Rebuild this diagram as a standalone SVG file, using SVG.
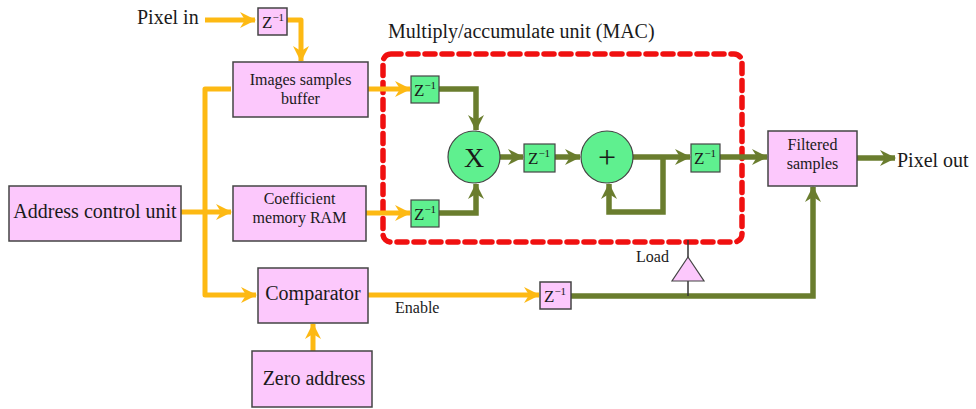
<svg xmlns="http://www.w3.org/2000/svg" width="976" height="409" viewBox="0 0 976 409">
<style>
text{font-family:"Liberation Serif","Times New Roman",serif;fill:#1a1a1a}
.pk{fill:#fcc8fc;stroke:#444;stroke-width:1.5}
.gn{fill:#5ff08f;stroke:#444;stroke-width:1.2}
.o{fill:none;stroke:#fdb913;stroke-width:5;stroke-linejoin:round}
.g{fill:none;stroke:#6a7d2e;stroke-width:5.5;stroke-linejoin:miter}
.big{font-size:20px}
.mid{font-size:16px}
.z{font-size:17px}
.sup{font-size:11px}
</style>
<defs>
<marker id="ao" markerUnits="userSpaceOnUse" viewBox="0 0 16 16" markerWidth="16" markerHeight="16" refX="15" refY="8" orient="auto">
<path d="M0,0 L16,8 L0,16 L5,8 Z" fill="#fdb913"/>
</marker>
<marker id="ag" markerUnits="userSpaceOnUse" viewBox="0 0 16 16" markerWidth="16" markerHeight="16" refX="15" refY="8" orient="auto">
<path d="M0,0 L16,8 L0,16 L5,8 Z" fill="#6a7d2e"/>
</marker>
</defs>

<g id="mac">
<rect x="383" y="54" width="359" height="188" rx="8" fill="none" stroke="#f01010" stroke-width="5.5" stroke-dasharray="10 7" stroke-linecap="round"/>
<text class="big" x="388" y="38">Multiply/accumulate unit (MAC)</text>
</g>

<g id="connectors">
<path class="o" d="M205,20 H255" marker-end="url(#ao)"/>
<path class="o" d="M285,20 H301 V61" marker-end="url(#ao)"/>
<path class="o" d="M181,212 H231" marker-end="url(#ao)"/>
<path class="o" d="M231,89 H205 V295 H256" marker-end="url(#ao)"/>
<path class="o" d="M313,351 V324" marker-end="url(#ao)"/>
<path class="o" d="M368,89 H410" marker-end="url(#ao)"/>
<path class="o" d="M366,213 H410" marker-end="url(#ao)"/>
<path class="o" d="M368,295 H539" marker-end="url(#ao)"/>
<path class="g" d="M439,89 H476 V130" marker-end="url(#ag)"/>
<path class="g" d="M439,213 H476 V184" marker-end="url(#ag)"/>
<path class="g" d="M500,157 H523" marker-end="url(#ag)"/>
<path class="g" d="M555,157 H580" marker-end="url(#ag)"/>
<path class="g" d="M633,157 H690" marker-end="url(#ag)"/>
<path class="g" d="M663,157 V212 H609 V184" marker-end="url(#ag)"/>
<path class="g" d="M720,157 H767" marker-end="url(#ag)"/>
<path class="g" d="M857,158 H895" marker-end="url(#ag)"/>
<path class="g" d="M571,296 H813 V187" marker-end="url(#ag)"/>
<path d="M688,240 V296" stroke="#333" stroke-width="1.5" fill="none"/>
</g>

<g id="pixel-in"><text class="big" x="137" y="24">Pixel in</text></g>

<g id="z-in">
<rect class="pk" x="258" y="8" width="29" height="27"/>
<text class="z" x="262" y="28">Z<tspan class="sup" dy="-7">−1</tspan></text>
</g>

<g id="images-buffer">
<rect class="pk" x="233" y="62" width="135" height="55"/>
<text class="mid" x="300.5" y="85" text-anchor="middle">Images  samples</text>
<text class="mid" x="300.5" y="104" text-anchor="middle">buffer</text>
</g>

<g id="address-control">
<rect class="pk" x="9" y="186" width="172" height="55"/>
<text class="big" x="95" y="218" text-anchor="middle">Address control unit</text>
</g>

<g id="coefficient-ram">
<rect class="pk" x="233" y="186" width="133" height="55"/>
<text class="mid" x="299.5" y="204" text-anchor="middle">Coefficient</text>
<text class="mid" x="299.5" y="223" text-anchor="middle">memory RAM</text>
</g>

<g id="comparator">
<rect class="pk" x="258" y="268" width="110" height="55"/>
<text class="big" x="313" y="300" text-anchor="middle">Comparator</text>
</g>

<g id="zero-address">
<rect class="pk" x="252" y="351" width="120" height="56"/>
<text class="big" x="314" y="385" text-anchor="middle">Zero address</text>
</g>

<g id="z-a">
<rect class="gn" x="411" y="76" width="28" height="27"/>
<text class="z" x="414" y="96">Z<tspan class="sup" dy="-7">−1</tspan></text>
</g>
<g id="z-b">
<rect class="gn" x="411" y="200" width="28" height="27"/>
<text class="z" x="414" y="220">Z<tspan class="sup" dy="-7">−1</tspan></text>
</g>

<g id="multiplier">
<circle cx="474" cy="157" r="26" fill="#5ff08f" stroke="#444" stroke-width="1.2"/>
<text x="474" y="167" text-anchor="middle" font-size="28">X</text>
</g>

<g id="z-c">
<rect class="gn" x="524" y="144" width="31" height="28"/>
<text class="z" x="528" y="164">Z<tspan class="sup" dy="-7">−1</tspan></text>
</g>

<g id="adder">
<circle cx="607" cy="157" r="26" fill="#5ff08f" stroke="#444" stroke-width="1.2"/>
<text x="607" y="168" text-anchor="middle" font-size="32">+</text>
</g>

<g id="z-d">
<rect class="gn" x="691" y="144" width="29" height="28"/>
<text class="z" x="694" y="164">Z<tspan class="sup" dy="-7">−1</tspan></text>
</g>

<g id="filtered-samples">
<rect class="pk" x="768" y="131" width="89" height="55"/>
<text class="mid" x="812.5" y="150" text-anchor="middle">Filtered</text>
<text class="mid" x="812.5" y="169" text-anchor="middle">samples</text>
</g>

<g id="pixel-out"><text class="big" x="897" y="167">Pixel out</text></g>

<g id="z-enable">
<rect class="pk" x="540" y="282" width="31" height="27"/>
<text class="z" x="544" y="302">Z<tspan class="sup" dy="-7">−1</tspan></text>
</g>
<g id="enable-label"><text class="mid" x="395" y="313">Enable</text></g>

<g id="load">
<path d="M688,257 L704,281 L672,281 Z" fill="#fcc8fc" stroke="#444" stroke-width="1.2"/>
<text class="mid" x="636" y="262">Load</text>
</g>
</svg>
